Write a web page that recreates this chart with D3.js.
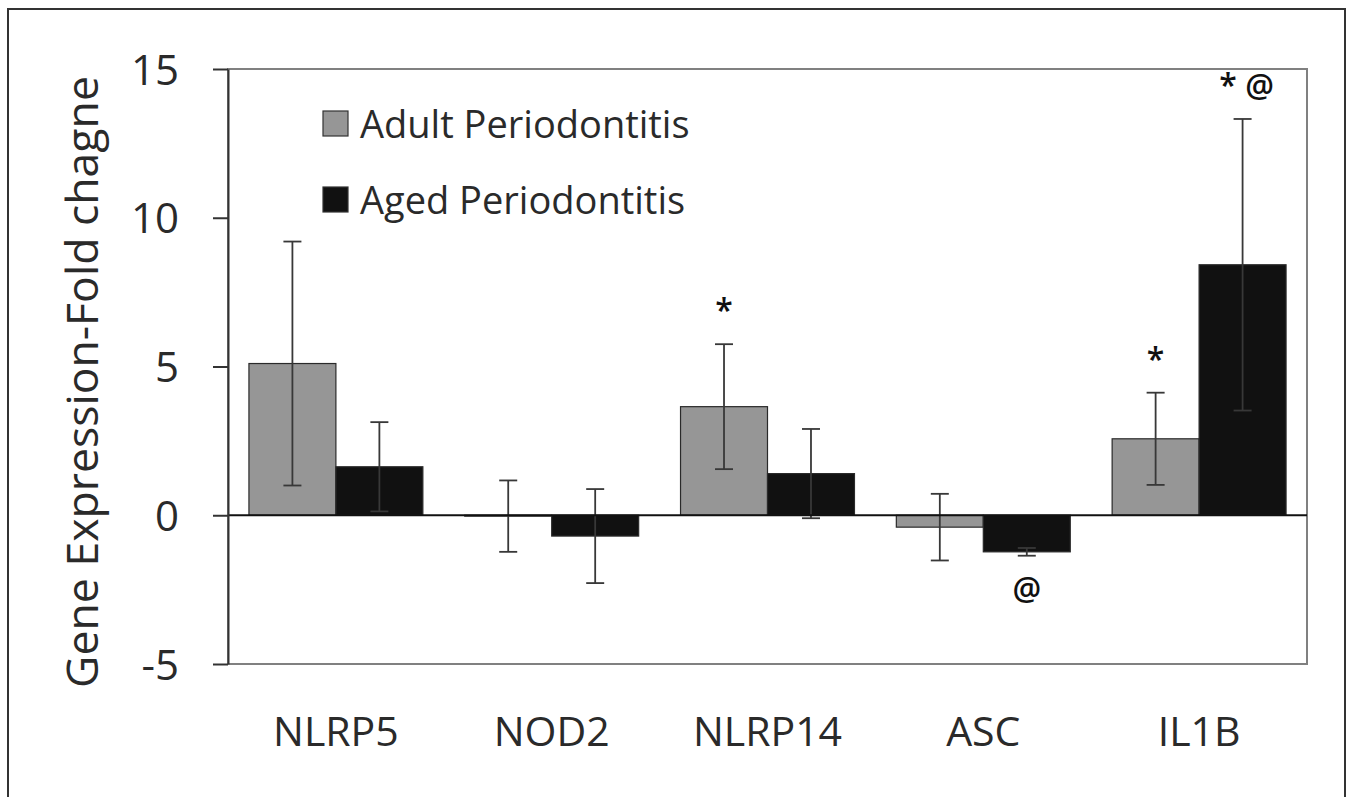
<!DOCTYPE html>
<html>
<head>
<meta charset="utf-8">
<script src="https://cdn.jsdelivr.net/npm/d3@7"></script>
<style>
  body { margin: 0; background: #fff; }
  svg { display: block; font-family: "Open Sans", sans-serif; }
</style>
</head>
<body>
<div id="chart"></div>
<script>
// gene expression fold change, two groups, +/- error
var categories = ["NLRP5", "NOD2", "NLRP14", "ASC", "IL1B"];
var series = ["Adult Periodontitis", "Aged Periodontitis"];
var adultValues = [5.1, -0.03, 3.65, -0.4, 2.57];
var adultErrors = [4.1, 1.2, 2.1, 1.12, 1.55];
var agedValues = [1.63, -0.7, 1.4, -1.23, 8.42];
var agedErrors = [1.5, 1.58, 1.5, 0.13, 4.9];
var yTicks = [-5, 0, 5, 10, 15];
// significance marks: category, series index, label, above(true)/below(false)
var marks = [
  { cat: "NLRP14", s: 0, label: "*", above: true },
  { cat: "ASC", s: 1, label: "@", above: false },
  { cat: "IL1B", s: 0, label: "*", above: true },
  { cat: "IL1B", s: 1, label: "* @", above: true }
];

var W = 1352, H = 797;
var plot = { left: 228, right: 1307, top: 69, bottom: 664 };
var colors = ["#969696", "#111111"];

var svg = d3.select("#chart").append("svg")
  .attr("width", W)
  .attr("height", H);

svg.append("rect").attr("width", W).attr("height", H).attr("fill", "#fff");

// outer frame
svg.append("rect")
  .attr("x", 8).attr("y", 9)
  .attr("width", 1337).attr("height", 820)
  .attr("fill", "none")
  .attr("stroke", "#333")
  .attr("stroke-width", 2);

var y = d3.scaleLinear().domain([-5, 15]).range([plot.bottom, plot.top]);

var x0 = d3.scaleBand()
  .domain(categories)
  .range([plot.left, plot.right])
  .paddingInner(0.194)
  .paddingOuter(0.097);

var x1 = d3.scaleBand()
  .domain(d3.range(series.length))
  .range([0, x0.bandwidth()]);

// table built from the arrays
var rows = [];
categories.forEach(function(c, i) {
  rows.push({ cat: c, s: 0, v: adultValues[i], e: adultErrors[i] });
  rows.push({ cat: c, s: 1, v: agedValues[i], e: agedErrors[i] });
});

// plot area frame
svg.append("rect")
  .attr("x", plot.left).attr("y", plot.top)
  .attr("width", plot.right - plot.left)
  .attr("height", plot.bottom - plot.top)
  .attr("fill", "none")
  .attr("stroke", "#808080")
  .attr("stroke-width", 2);

// bars
svg.selectAll("rect.bar")
  .data(rows)
  .enter()
  .append("rect")
  .attr("class", "bar")
  .attr("x", function(d) { return x0(d.cat) + x1(d.s); })
  .attr("y", function(d) { return y(Math.max(0, d.v)); })
  .attr("width", x1.bandwidth())
  .attr("height", function(d) { return Math.abs(y(d.v) - y(0)); })
  .attr("fill", function(d) { return colors[d.s]; })
  .attr("stroke", "#2a2a2a")
  .attr("stroke-width", 1.2);

// error bars
var cx = function(d) { return x0(d.cat) + x1(d.s) + x1.bandwidth() / 2; };
var eb = svg.selectAll("g.err")
  .data(rows)
  .enter()
  .append("g")
  .attr("class", "err")
  .attr("stroke", "#383838")
  .attr("stroke-width", 1.8);

eb.append("line")
  .attr("x1", cx).attr("x2", cx)
  .attr("y1", function(d) { return y(d.v + d.e); })
  .attr("y2", function(d) { return y(d.v - d.e); });
eb.append("line")
  .attr("x1", function(d) { return cx(d) - 9; })
  .attr("x2", function(d) { return cx(d) + 9; })
  .attr("y1", function(d) { return y(d.v + d.e); })
  .attr("y2", function(d) { return y(d.v + d.e); });
eb.append("line")
  .attr("x1", function(d) { return cx(d) - 9; })
  .attr("x2", function(d) { return cx(d) + 9; })
  .attr("y1", function(d) { return y(d.v - d.e); })
  .attr("y2", function(d) { return y(d.v - d.e); });

// zero line
svg.append("line")
  .attr("x1", plot.left).attr("x2", plot.right)
  .attr("y1", y(0)).attr("y2", y(0))
  .attr("stroke", "#111")
  .attr("stroke-width", 2);

// y axis
var yAxis = d3.axisLeft(y)
  .tickValues(yTicks)
  .tickSize(15)
  .tickSizeOuter(0)
  .tickPadding(34)
  .tickFormat(function(d) { return String(d); });

var gy = svg.append("g")
  .attr("transform", "translate(" + plot.left + ",0)")
  .call(yAxis);
gy.select(".domain").attr("stroke", "#333").attr("stroke-width", 2);
gy.selectAll(".tick line").attr("stroke", "#333").attr("stroke-width", 2);
gy.selectAll(".tick text")
  .attr("font-family", "Open Sans")
  .attr("font-size", 42)
  .attr("fill", "#2a2a2a")
  .attr("dy", "0.36em");

// x labels
svg.selectAll("text.xlab")
  .data(categories)
  .enter()
  .append("text")
  .attr("class", "xlab")
  .attr("x", function(d) { return x0(d) + x0.bandwidth() / 2; })
  .attr("y", 746)
  .attr("text-anchor", "middle")
  .attr("font-size", 41)
  .attr("fill", "#2a2a2a")
  .text(function(d) { return d; });

// y title
var yt = svg.append("text")
  .attr("transform", "translate(98,382) rotate(-90)")
  .attr("text-anchor", "middle")
  .attr("font-size", 40)
  .attr("fill", "#2a2a2a")
  .text("Gene Expression-Fold chagne");
var len = yt.node().getComputedTextLength();
yt.attr("font-size", 40 * 612 / len);

// legend
var lg = svg.selectAll("g.legend")
  .data(series)
  .enter()
  .append("g")
  .attr("class", "legend")
  .attr("transform", function(d, i) { return "translate(323," + (111 + i * 76) + ")"; });
lg.append("rect")
  .attr("width", 25).attr("height", 25)
  .attr("fill", function(d, i) { return colors[i]; })
  .attr("stroke", "#333")
  .attr("stroke-width", 1.2);
lg.append("text")
  .attr("x", 37)
  .attr("y", 27)
  .attr("font-size", 38)
  .attr("fill", "#2a2a2a")
  .text(function(d) { return d; });

// significance marks
svg.selectAll("text.mark")
  .data(marks)
  .enter()
  .append("text")
  .attr("class", "mark")
  .attr("x", function(d) {
    var r = rows.find(function(q) { return q.cat === d.cat && q.s === d.s; });
    return cx(r) + (d.label.length > 1 ? 4 : 0);
  })
  .attr("y", function(d) {
    var r = rows.find(function(q) { return q.cat === d.cat && q.s === d.s; });
    return d.above ? y(r.v + r.e) - 22 : y(r.v - r.e) + 44;
  })
  .attr("text-anchor", "middle")
  .attr("font-size", 32)
  .attr("font-weight", 600)
  .attr("fill", "#111")
  .attr("xml:space", "preserve")
  .text(function(d) { return d.label; });
</script>
</body>
</html>
